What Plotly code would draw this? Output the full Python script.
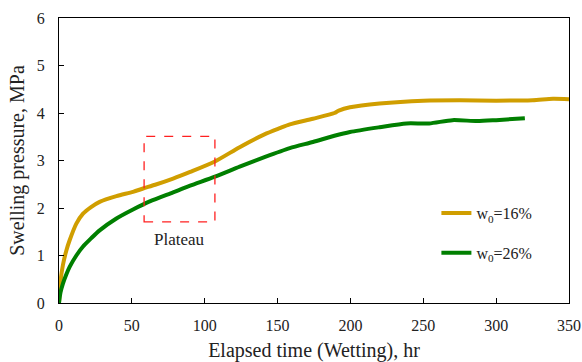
import plotly.graph_objects as go

# w0 = 16 %
t16 = [0, 1, 2.7, 5, 7.3, 11.9, 16.5, 22, 27.9, 39.4, 50.8, 57.7, 66, 78.3, 90, 107, 124, 141, 151.5, 158.4,
       174.3, 189, 192, 199.7, 220, 250, 275, 300, 325, 339, 350]
p16 = [0, 0.45, 0.8, 1.1, 1.32, 1.67, 1.88, 2.02, 2.13, 2.25, 2.34, 2.41, 2.49, 2.62, 2.76, 2.98, 3.28, 3.55, 3.68, 3.76,
       3.88, 4.0, 4.05, 4.12, 4.2, 4.26, 4.27, 4.26, 4.27, 4.3, 4.29]

# w0 = 26 %
t26 = [0, 1, 2.7, 5, 7.3, 11.9, 16.5, 22, 27.9, 39.4, 50.8, 62.3, 78.3, 90, 107, 124, 141, 158.4, 174.3,
       189, 199.7, 220, 238.5, 254, 270, 287, 300, 319.7]
p26 = [0, 0.22, 0.41, 0.6, 0.76, 1.0, 1.19, 1.36, 1.53, 1.78, 1.97, 2.14, 2.33, 2.47, 2.66, 2.87, 3.07, 3.26, 3.39,
       3.52, 3.6, 3.7, 3.78, 3.78, 3.85, 3.83, 3.85, 3.89]

# Plateau box (data coords)
box_x = [58.4, 107]
box_y = [1.71, 3.51]

x_ticks = [0, 50, 100, 150, 200, 250, 300, 350]
y_ticks = [0, 1, 2, 3, 4, 5, 6]

GOLD = "#D09E00"
GREEN = "#007F00"
FONT = "Liberation Serif"
TXT = "#222222"

fig = go.Figure()
fig.add_trace(go.Scatter(x=t16, y=p16, mode="lines", name="w<sub>0</sub>=16%",
                         line=dict(color=GOLD, width=4, shape="spline", smoothing=0.7),
                         legendgroup="a"))
fig.add_trace(go.Scatter(x=t26, y=p26, mode="lines", name="w<sub>0</sub>=26%",
                         line=dict(color=GREEN, width=4, shape="spline", smoothing=0.7),
                         legendgroup="b"))

fig.add_shape(type="rect", x0=box_x[0], x1=box_x[1], y0=box_y[0], y1=box_y[1],
              xref="x", yref="y", line=dict(color="#FF2020", width=1.3, dash="dash"))
fig.add_annotation(x=(box_x[0] + box_x[1]) / 2, y=box_y[0] - 0.13, xref="x", yref="y",
                   text="Plateau", showarrow=False, yanchor="top",
                   font=dict(family=FONT, size=17, color=TXT))

axis_common = dict(showline=True, linecolor="black", linewidth=1.3, mirror=True,
                   ticks="inside", ticklen=5, tickcolor="black", showgrid=False, zeroline=False,
                   automargin=False,
                   tickfont=dict(family=FONT, size=16, color=TXT))
fig.update_xaxes(range=[0, 350], tickvals=x_ticks, ticklabelstandoff=8,
                 title=dict(text="Elapsed time (Wetting), hr", font=dict(family=FONT, size=20, color=TXT),
                            standoff=10),
                 **axis_common)
fig.update_yaxes(range=[0, 6], tickvals=y_ticks, ticklabelstandoff=10,
                 title=dict(text="Swelling pressure, MPa", font=dict(family=FONT, size=20, color=TXT),
                            standoff=6),
                 **axis_common)

fig.update_layout(
    width=582, height=362,
    margin=dict(l=59, r=13, t=18, b=59),
    paper_bgcolor="white", plot_bgcolor="white",
    showlegend=True,
    legend=dict(x=0.74, y=0.375, xanchor="left", yanchor="top", bgcolor="rgba(0,0,0,0)",
                font=dict(family=FONT, size=16, color=TXT), tracegroupgap=16,
                itemwidth=30),
)

fig.write_html("out.html", config={"displayModeBar": False},
               post_script="document.body.style.margin='0';")
